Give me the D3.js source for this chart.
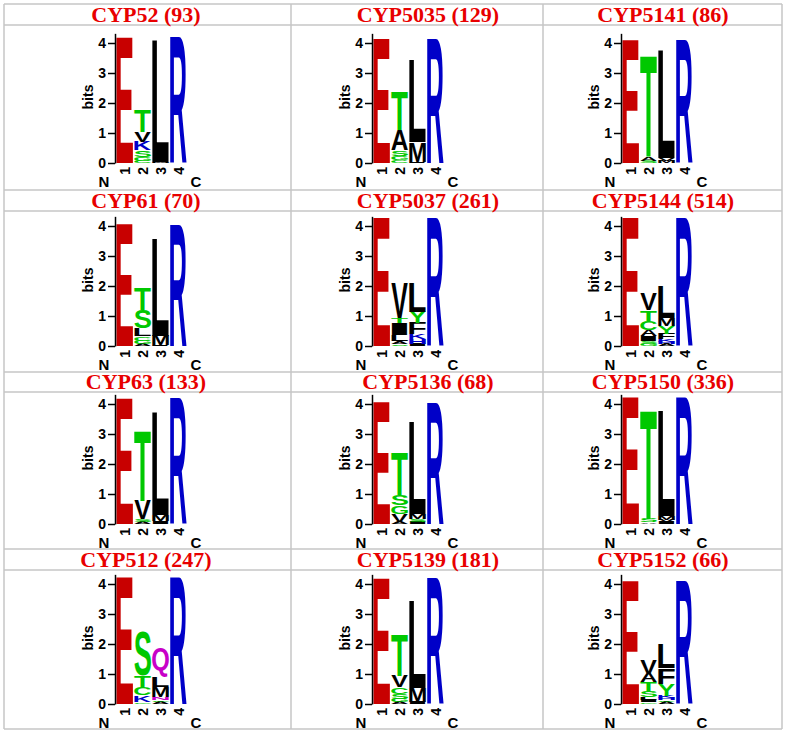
<!DOCTYPE html>
<html>
<head>
<meta charset="utf-8">
<script src="https://cdn.jsdelivr.net/npm/d3@7"></script>
<style>
  body { margin: 0; background: #fff; }
</style>
</head>
<body>
<svg id="chart" width="785" height="735"></svg>
<script>
'use strict'

// panel titles, read row by row
const titles = [
  'CYP52 (93)', 'CYP5035 (129)', 'CYP5141 (86)',
  'CYP61 (70)', 'CYP5037 (261)', 'CYP5144 (514)',
  'CYP63 (133)', 'CYP5136 (68)', 'CYP5150 (336)',
  'CYP512 (247)', 'CYP5139 (181)', 'CYP5152 (66)'
]
const positions = ['1', '2', '3', '4']
const bitTicks = [0, 1, 2, 3, 4]

// each logo: one stack per position, letters listed bottom to top as [letter, bits]
const cyp52 = [
  [['E', 4.17]],
  [['C', 0.08], ['G', 0.12], ['S', 0.22], ['K', 0.28], ['V', 0.35], ['T', 0.73]],
  [['M', 0.05], ['L', 4.05]],
  [['R', 4.17]]
]
const cyp5035 = [
  [['E', 4.14]],
  [['C', 0.10], ['G', 0.14], ['S', 0.19], ['A', 0.67], ['T', 1.30]],
  [['I', 0.03], ['M', 0.66], ['L', 2.73]],
  [['R', 4.14]]
]
const cyp5141 = [
  [['E', 4.10]],
  [['S', 0.08], ['A', 0.13], ['T', 3.39]],
  [['M', 0.08], ['V', 0.10], ['L', 3.60]],
  [['R', 4.10]]
]
const cyp61 = [
  [['E', 4.06]],
  [['A', 0.06], ['G', 0.12], ['C', 0.14], ['L', 0.26], ['S', 0.62], ['T', 0.72]],
  [['I', 0.03], ['M', 0.32], ['L', 3.23]],
  [['R', 4.06]]
]
const cyp5037 = [
  [['E', 4.25]],
  [['S', 0.06], ['A', 0.10], ['L', 0.22], ['I', 0.40], ['T', 0.17], ['V', 1.15]],
  [['I', 0.06], ['H', 0.16], ['K', 0.16], ['F', 0.38], ['Y', 0.36], ['L', 0.99]],
  [['R', 4.25]]
]
const cyp5144 = [
  [['E', 4.28]],
  [['G', 0.08], ['S', 0.10], ['I', 0.15], ['A', 0.19], ['C', 0.31], ['T', 0.36], ['V', 0.53]],
  [['A', 0.06], ['H', 0.08], ['K', 0.08], ['F', 0.19], ['Y', 0.26], ['M', 0.27], ['L', 1.06]],
  [['R', 4.28]]
]
const cyp63 = [
  [['E', 4.20]],
  [['A', 0.06], ['S', 0.10], ['V', 0.62], ['T', 2.34]],
  [['I', 0.06], ['V', 0.05], ['M', 0.20], ['L', 3.41]],
  [['R', 4.20]]
]
const cyp5136 = [
  [['E', 4.04]],
  [['A', 0.08], ['V', 0.26], ['G', 0.28], ['S', 0.34], ['T', 1.43]],
  [['I', 0.08], ['S', 0.09], ['M', 0.17], ['L', 3.09]],
  [['R', 4.07]]
]
const cyp5150 = [
  [['E', 4.24]],
  [['A', 0.05], ['S', 0.12], ['T', 3.65]],
  [['I', 0.06], ['V', 0.08], ['M', 0.12], ['L', 3.52]],
  [['R', 4.22]]
]
const cyp512 = [
  [['E', 4.23]],
  [['G', 0.06], ['K', 0.22], ['C', 0.27], ['T', 0.39], ['S', 1.47]],
  [['A', 0.06], ['G', 0.06], ['N', 0.10], ['M', 0.36], ['L', 0.34], ['Q', 0.96]],
  [['R', 4.23]]
]
const cyp5139 = [
  [['E', 4.20]],
  [['A', 0.06], ['G', 0.12], ['S', 0.16], ['C', 0.22], ['V', 0.36], ['T', 1.40]],
  [['I', 0.06], ['M', 0.49], ['L', 2.90]],
  [['R', 4.20]]
]
const cyp5152 = [
  [['E', 4.10]],
  [['G', 0.06], ['I', 0.08], ['L', 0.08], ['S', 0.22], ['T', 0.28], ['A', 0.29], ['V', 0.48]],
  [['A', 0.06], ['C', 0.06], ['H', 0.08], ['K', 0.08], ['Y', 0.38], ['F', 0.53], ['L', 0.81]],
  [['R', 4.10]]
]

const logos = [
  cyp52, cyp5035, cyp5141,
  cyp61, cyp5037, cyp5144,
  cyp63, cyp5136, cyp5150,
  cyp512, cyp5139, cyp5152
]

// chemistry colour scheme
const letterColor = letter => {
  if ('GSTYC'.includes(letter)) return '#00c800'
  if ('NQ'.includes(letter)) return '#c800c8'
  if ('KRH'.includes(letter)) return '#0000c8'
  if ('DE'.includes(letter)) return '#c80000'
  return '#000'
}

// table geometry
const colLines = [4, 291, 543, 782]
const rowLines = [4, 25, 190, 211, 372, 392, 549, 570, 729]
const titleCentre = [146, 428, 663]
const axisXByCol = [115, 372, 621]
const zeroYByRow = [163, 346, 524, 704]
const pxPerBit = 30
const maxBits = Math.log2(20)
const colPitch = 17.8

const svg = d3.select('#chart')

// grid
const grid = svg.append('g').attr('stroke', '#c6c6c6').attr('stroke-width', 1.5)
colLines.forEach(x => {
  grid.append('line').attr('x1', x).attr('x2', x)
    .attr('y1', rowLines[0]).attr('y2', rowLines[rowLines.length - 1])
})
rowLines.forEach(y => {
  grid.append('line').attr('y1', y).attr('y2', y)
    .attr('x1', colLines[0]).attr('x2', colLines[colLines.length - 1])
})

// glyph ink boxes, so each letter can be stretched to fill its slot
const glyphFont = '"Liberation Sans", Arial, Helvetica, sans-serif'
const ctx = document.createElement('canvas').getContext('2d')
ctx.font = `bold 100px ${glyphFont}`
const glyphBoxes = new Map()
function glyphBox (ch) {
  if (!glyphBoxes.has(ch)) {
    const m = ctx.measureText(ch)
    glyphBoxes.set(ch, {
      left: m.actualBoundingBoxLeft,
      width: m.actualBoundingBoxLeft + m.actualBoundingBoxRight,
      ascent: m.actualBoundingBoxAscent,
      height: m.actualBoundingBoxAscent + m.actualBoundingBoxDescent
    })
  }
  return glyphBoxes.get(ch)
}

const labelFont = 'Arial, "Liberation Sans", Helvetica, sans-serif'

logos.forEach((logo, i) => {
  const row = Math.floor(i / 3)
  const col = i % 3
  const axisX = axisXByCol[col]
  const zeroY = zeroYByRow[row]

  // title
  svg.append('text')
    .attr('x', titleCentre[col])
    .attr('y', rowLines[row * 2 + 1] - 3)
    .attr('text-anchor', 'middle')
    .attr('font-family', '"Times New Roman", "Liberation Serif", serif')
    .attr('font-weight', 'bold')
    .attr('font-size', 22)
    .attr('fill', '#e80000')
    .text(titles[i])

  const x = d3.scaleBand()
    .domain(positions)
    .range([axisX + 1, axisX + 1 + colPitch * positions.length])
    .paddingInner(0.07)
    .paddingOuter(0.02)
  const y = d3.scaleLinear()
    .domain([0, maxBits])
    .range([zeroY, zeroY - maxBits * pxPerBit])

  const panel = svg.append('g').attr('class', 'logo')

  // flatten the stacks into glyph records
  const glyphs = []
  logo.forEach((stack, p) => {
    let base = 0
    stack.forEach(([letter, bits]) => {
      glyphs.push({ pos: positions[p], letter, y0: base, y1: base + bits })
      base += bits
    })
  })

  panel.selectAll('text.glyph')
    .data(glyphs)
    .join('text')
    .attr('class', 'glyph')
    .attr('font-family', glyphFont)
    .attr('font-weight', 'bold')
    .attr('font-size', 100)
    .attr('fill', d => letterColor(d.letter))
    .attr('transform', d => {
      const box = glyphBox(d.letter)
      const sx = x.bandwidth() / box.width
      const sy = (y(d.y0) - y(d.y1)) / box.height
      return `translate(${x(d.pos)},${y(d.y1)}) scale(${sx},${sy}) translate(${box.left},${box.ascent})`
    })
    .text(d => d.letter)

  // y axis
  const yAxis = panel.append('g')
    .attr('transform', `translate(${axisX},0)`)
    .call(d3.axisLeft(y).tickValues(bitTicks).tickFormat(d3.format('d'))
      .tickSize(7).tickPadding(2).tickSizeOuter(0))
  yAxis.selectAll('path, line').attr('stroke', '#000').attr('stroke-width', 1.5)
  yAxis.selectAll('text')
    .attr('font-family', labelFont)
    .attr('font-weight', 'bold')
    .attr('font-size', 14)
    .attr('fill', '#000')

  panel.append('text')
    .attr('transform', `translate(${axisX - 22},${y(2.2)}) rotate(-90)`)
    .attr('text-anchor', 'middle')
    .attr('font-family', labelFont)
    .attr('font-weight', 'bold')
    .attr('font-size', 14)
    .text('bits')

  // position labels
  panel.selectAll('text.pos')
    .data(positions)
    .join('text')
    .attr('class', 'pos')
    .attr('transform', d => `translate(${x(d) + x.bandwidth() / 2},${zeroY + 4}) rotate(-90)`)
    .attr('text-anchor', 'end')
    .attr('dy', '0.36em')
    .attr('font-family', labelFont)
    .attr('font-weight', 'bold')
    .attr('font-size', 14)
    .text(d => d)

  panel.append('text')
    .attr('x', axisX - 11)
    .attr('y', zeroY + 24)
    .attr('text-anchor', 'middle')
    .attr('font-family', labelFont)
    .attr('font-weight', 'bold')
    .attr('font-size', 15)
    .text('N')
  panel.append('text')
    .attr('x', axisX + 81)
    .attr('y', zeroY + 24)
    .attr('text-anchor', 'middle')
    .attr('font-family', labelFont)
    .attr('font-weight', 'bold')
    .attr('font-size', 15)
    .text('C')
})
</script>
</body>
</html>
